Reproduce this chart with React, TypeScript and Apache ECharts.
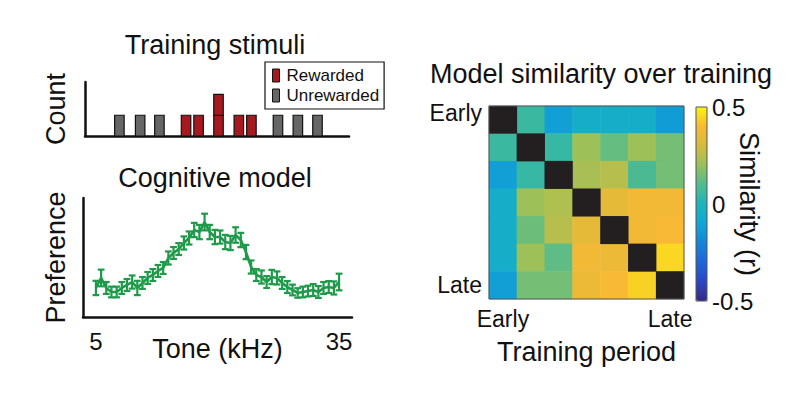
import React, { useEffect, useRef } from 'react';
import * as echarts from 'echarts';

// ---- Training stimuli (top left) ----
const toneKHz = [6.0, 7.1, 8.3, 10.3, 11.4, 13.4, 15.8, 17.5, 21.7, 25.5, 29.9];
const toneCount = [1, 1, 1, 1, 1, 2, 1, 1, 1, 1, 1];
const toneRewarded = [false, false, false, true, true, true, true, true, false, false, false];

// ---- Cognitive model (bottom left) ----
const preference = [
  0.244, 0.328, 0.244, 0.21, 0.21, 0.244, 0.269, 0.294, 0.244, 0.286, 0.328, 0.353,
  0.387, 0.412, 0.496, 0.538, 0.571, 0.622, 0.664, 0.731, 0.714, 0.798, 0.714, 0.672,
  0.672, 0.63, 0.622, 0.689, 0.647, 0.546, 0.42, 0.353, 0.336, 0.294, 0.336, 0.328,
  0.286, 0.252, 0.227, 0.202, 0.21, 0.218, 0.227, 0.21, 0.244, 0.252, 0.244, 0.294,
];
const preferenceErr = [
  0.06, 0.07, 0.05, 0.045, 0.045, 0.05, 0.05, 0.055, 0.06, 0.05, 0.05, 0.05,
  0.05, 0.05, 0.055, 0.05, 0.05, 0.055, 0.055, 0.06, 0.06, 0.07, 0.06, 0.06,
  0.055, 0.06, 0.06, 0.065, 0.06, 0.06, 0.055, 0.05, 0.055, 0.05, 0.06, 0.055,
  0.05, 0.05, 0.045, 0.04, 0.045, 0.045, 0.05, 0.05, 0.05, 0.05, 0.055, 0.07,
];
const toneTickIndex = [0, 47];
const toneTickLabels = ['5', '35'];

// ---- Model similarity (right) ----
const periods = ['Early', '', '', '', '', '', 'Late'];
const similarity: (number | null)[][] = [
  [null, 0.06, -0.12, -0.05, -0.05, -0.05, -0.13],
  [0.06, null, 0.05, 0.21, 0.13, 0.21, 0.15],
  [-0.12, 0.05, null, 0.23, 0.25, 0.09, 0.15],
  [-0.05, 0.21, 0.24, null, 0.35, 0.38, 0.38],
  [-0.05, 0.14, 0.25, 0.35, null, 0.38, 0.4],
  [-0.05, 0.21, 0.12, 0.38, 0.37, null, 0.45],
  [-0.12, 0.15, 0.15, 0.37, 0.4, 0.44, null],
];
const simMin = -0.5;
const simMax = 0.5;
const simInterval = 0.5;
const parula = [
  '#352a87', '#2c45c4', '#1e66d8', '#1585d8', '#10a6d5', '#1cb4bc',
  '#50bb8e', '#97c15c', '#d4bb3e', '#f8b934', '#f9f50f',
];

const FONT = '"Liberation Sans", Arial, Helvetica, sans-serif';
const INK = '#111';
const GREEN = '#1f9a4a';
const RED = '#a8191f';
const GREY = '#666666';
const DIAG = '#231f20';

export default function App() {
  const ref = useRef<HTMLDivElement>(null);

  useEffect(() => {
    if (!ref.current) return;
    const chart = echarts.init(ref.current, undefined, { renderer: 'svg' });

    const barData = (rew: boolean) =>
      toneKHz
        .map((t, i) => ({ t, c: toneCount[i], r: toneRewarded[i] }))
        .filter((d) => d.r === rew)
        .map((d) => [d.t, d.c]);

    const barRender = (fill: string) => (params: any, api: any) => {
      const x = api.value(0);
      const c = api.value(1);
      const w = 9.5;
      const children: any[] = [];
      for (let k = 0; k < c; k++) {
        const p0 = api.coord([x, k]);
        const p1 = api.coord([x, k + 1]);
        children.push({
          type: 'rect',
          shape: { x: p0[0] - w / 2, y: p1[1], width: w, height: p0[1] - p1[1] },
          style: { fill, stroke: INK, lineWidth: 1.2 },
        });
      }
      return { type: 'group', children };
    };

    const heatData: any[] = [];
    const diagData: any[] = [];
    similarity.forEach((row, r) =>
      row.forEach((v, c) => {
        if (v === null) diagData.push([c, r, 0]);
        else heatData.push([c, r, v]);
      })
    );

    const axisLine = { show: true, onZero: false, lineStyle: { color: INK, width: 2.5 } };

    chart.setOption({
      animation: false,
      textStyle: { fontFamily: FONT, color: INK },
      title: [
        { text: 'Training stimuli', left: 215, top: 31, textAlign: 'center', padding: 0,
          textStyle: { fontSize: 27, fontWeight: 'normal', color: INK, fontFamily: FONT } },
        { text: 'Cognitive model', left: 215, top: 164, textAlign: 'center', padding: 0,
          textStyle: { fontSize: 27, fontWeight: 'normal', color: INK, fontFamily: FONT } },
        { text: 'Model similarity over training', left: 601, top: 60, textAlign: 'center', padding: 0,
          textStyle: { fontSize: 27, fontWeight: 'normal', color: INK, fontFamily: FONT } },
      ],
      legend: {
        orient: 'vertical',
        left: 265,
        top: 62,
        padding: [5, 5, 5, 7],
        borderColor: INK,
        borderWidth: 1.2,
        itemWidth: 7,
        itemHeight: 13,
        itemGap: 3,
        textStyle: { fontSize: 17, color: INK, fontFamily: FONT, padding: [0, 0, 0, 2] },
        data: [
          { name: 'Rewarded', icon: 'rect', itemStyle: { color: RED, borderColor: INK, borderWidth: 1 } },
          { name: 'Unrewarded', icon: 'rect', itemStyle: { color: GREY, borderColor: INK, borderWidth: 1 } },
        ],
      },
      grid: [
        { left: 85, top: 82, width: 264, height: 54 },
        { left: 83, top: 198, width: 269, height: 119 },
        { left: 489, top: 106, width: 195, height: 193, show: true, borderColor: '#555', borderWidth: 1,
          backgroundColor: 'transparent', z: 10 },
        { left: 696, top: 107, width: 11, height: 194, show: true, borderColor: '#555', borderWidth: 1,
          backgroundColor: 'transparent', z: 10 },
      ],
      xAxis: [
        { gridIndex: 0, type: 'log', min: 4.54, max: 38.6, axisLine, axisTick: { show: false },
          axisLabel: { show: false }, splitLine: { show: false } },
        { gridIndex: 1, type: 'value', min: -2.5, max: 49.5, axisLine,
          axisTick: { show: false }, splitLine: { show: false },
          axisLabel: {
            customValues: toneTickIndex,
            formatter: (v: number) => toneTickLabels[toneTickIndex.indexOf(v)] ?? '',
            fontSize: 24, color: INK, margin: 12,
          },
          name: 'Tone (kHz)', nameLocation: 'middle', nameGap: 18, nameMoveOverlap: false,
          nameTextStyle: { fontSize: 27, color: INK } },
        { gridIndex: 2, type: 'category', data: periods, axisLine: { show: false },
          axisTick: { show: false }, splitLine: { show: false },
          axisLabel: { interval: 0, fontSize: 23, color: INK, margin: 8 },
          name: 'Training period', nameLocation: 'middle', nameGap: 39, nameMoveOverlap: false,
          nameTextStyle: { fontSize: 27, color: INK } },
        { gridIndex: 3, type: 'value', show: false, min: 0, max: 1 },
      ],
      yAxis: [
        { gridIndex: 0, type: 'value', min: 0, max: 2.6, axisLine, axisTick: { show: false },
          axisLabel: { show: false }, splitLine: { show: false },
          name: 'Count', nameLocation: 'middle', nameGap: 16,
          nameTextStyle: { fontSize: 27, color: INK } },
        { gridIndex: 1, type: 'value', min: 0, max: 1, axisLine, axisTick: { show: false },
          axisLabel: { show: false }, splitLine: { show: false },
          name: 'Preference', nameLocation: 'middle', nameGap: 14,
          nameTextStyle: { fontSize: 27, color: INK } },
        { gridIndex: 2, type: 'category', data: periods, inverse: true, axisLine: { show: false },
          axisTick: { show: false }, splitLine: { show: false },
          axisLabel: {
            interval: 0, fontSize: 23, color: INK, margin: 7,
            formatter: (v: string) => (v === 'Early' ? '{e|Early}' : v),
            rich: { e: { fontSize: 23, color: INK, padding: [0, 0, 14, 0] } },
          } },
        { gridIndex: 3, type: 'value', position: 'right', min: simMin, max: simMax, interval: simInterval,
          axisLine: { show: false }, axisTick: { show: false }, splitLine: { show: false },
          axisLabel: { fontSize: 24, color: INK, margin: 5 },
          name: 'Similarity (r)', nameLocation: 'middle', nameRotate: -90, nameGap: 28, nameMoveOverlap: false,
          nameTextStyle: { fontSize: 27, color: INK } },
      ],
      visualMap: [
        {
          type: 'continuous',
          seriesIndex: 4,
          min: simMin,
          max: simMax,
          calculable: false,
          show: true,
          left: 696,
          top: 107,
          padding: 0,
          itemWidth: 11,
          itemHeight: 194,
          inRange: { color: parula },
          showLabel: false,
        },
        {
          type: 'continuous',
          seriesIndex: 5,
          min: 0,
          max: 1,
          show: false,
          inRange: { color: [DIAG, DIAG] },
        },
      ],
      series: [
        { name: 'Rewarded', type: 'custom', xAxisIndex: 0, yAxisIndex: 0, data: barData(true),
          renderItem: barRender(RED), itemStyle: { color: RED }, encode: { x: 0, y: 1 } },
        { name: 'Unrewarded', type: 'custom', xAxisIndex: 0, yAxisIndex: 0, data: barData(false),
          renderItem: barRender(GREY), itemStyle: { color: GREY }, encode: { x: 0, y: 1 } },
        { type: 'line', xAxisIndex: 1, yAxisIndex: 1, data: preference.map((v, i) => [i, v]),
          showSymbol: false, symbol: 'none', lineStyle: { color: GREEN, width: 2.6 }, z: 3 },
        { type: 'custom', xAxisIndex: 1, yAxisIndex: 1, encode: { x: 0, y: 1 },
          data: preference.map((v, i) => [i, v, preferenceErr[i]]),
          renderItem: (params: any, api: any) => {
            const x = api.value(0);
            const y = api.value(1);
            const e = api.value(2);
            const hi = api.coord([x, y + e]);
            const lo = api.coord([x, y - e]);
            const hw = 3.4;
            const st = { stroke: GREEN, lineWidth: 2.2 };
            return {
              type: 'group',
              children: [
                { type: 'line', shape: { x1: hi[0], y1: hi[1], x2: lo[0], y2: lo[1] }, style: st },
                { type: 'line', shape: { x1: hi[0] - hw, y1: hi[1], x2: hi[0] + hw, y2: hi[1] }, style: st },
                { type: 'line', shape: { x1: lo[0] - hw, y1: lo[1], x2: lo[0] + hw, y2: lo[1] }, style: st },
              ],
            };
          } },
        { type: 'heatmap', xAxisIndex: 2, yAxisIndex: 2, data: heatData, itemStyle: { borderWidth: 0 } },
        { type: 'heatmap', xAxisIndex: 2, yAxisIndex: 2, data: diagData, itemStyle: { borderWidth: 0 } },
      ],
    });

    return () => chart.dispose();
  }, []);

  return <div ref={ref} style={{ width: 797, height: 396, margin: -8 }} />;
}
